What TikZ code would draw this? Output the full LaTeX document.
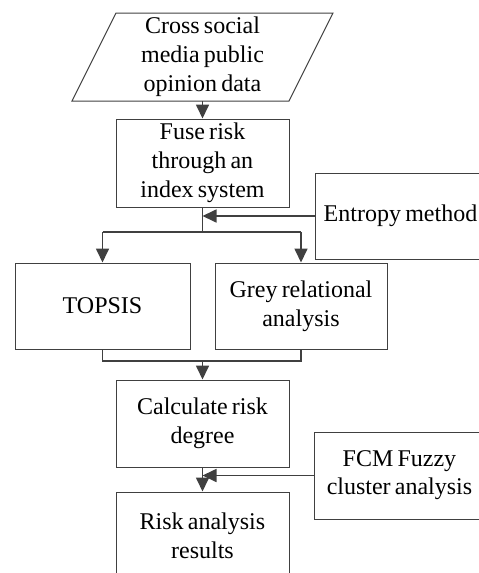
\documentclass[tikz,border=0pt]{standalone}
\usepackage{fontspec}
\setmainfont[WordSpace=0.7]{Liberation Serif}
\usetikzlibrary{arrows.meta}
\definecolor{ln}{HTML}{404040}
\tikzset{
  box/.style={draw=ln, line width=1pt, minimum width=173pt, minimum height=88pt, align=center, inner sep=0pt, font=\fontsize{24}{29}\selectfont},
  sidebox/.style={draw=ln, line width=1pt, minimum height=87pt, minimum width=170pt, inner xsep=1pt, align=center, anchor=west, font=\fontsize{24}{28}\selectfont},
  txt/.style={align=center, inner sep=0pt, font=\fontsize{24}{29}\selectfont},
  conn/.style={draw=ln, line width=1.7pt},
  arr/.style={conn, -{Triangle[width=13pt,length=14pt]}, color=ln}
}
\begin{document}
\begin{tikzpicture}[x=1pt,y=-1pt]
\useasboundingbox (0,0) rectangle (479,573);
\clip (0,0) rectangle (479,573);
% parallelogram input
\draw[draw=ln, line width=1pt] (116,13) -- (333,13) -- (289,101) -- (72,101) -- cycle;
\node[txt] (src) at (202.5,57) {Cross social\\media public\\opinion data};
\coordinate (srcb) at (202.5,101);
% main boxes
\node[box] (fuse) at (202.5,163) {Fuse risk\\through an\\index system};
\node[box, minimum width=175pt, minimum height=86pt] (topsis) at (102.5,306) {TOPSIS};
\node[box, minimum width=172pt, minimum height=86pt] (grey) at (301,306) {Grey relational\\analysis};
\node[box, minimum height=87pt] (calc) at (202.5,423.5) {Calculate risk\\degree};
\node[box] (res) at (202.5,536) {Risk analysis\\results};
% side boxes
\node[sidebox, minimum height=86pt] (ent) at (315,216) {Entropy method};
\node[sidebox] (fcm) at (314,475.5) {FCM Fuzzy\\cluster analysis};
% coordinates
\coordinate (j1) at (202.5,232);
\coordinate (j1l) at (topsis.north |- j1);
\coordinate (j1r) at (grey.north |- j1);
\coordinate (j2) at (202.5,361);
\coordinate (j2l) at (topsis.south |- j2);
\coordinate (j2r) at (grey.south |- j2);
% connectors
\draw[arr] (srcb) -- (fuse.north);
\draw[conn] (fuse.south) -- (j1);
\draw[arr] (ent.west) -- (fuse.south |- ent.west);
\draw[conn] (j1l) -- (j1r);
\draw[arr] (j1l) -- (topsis.north);
\draw[arr] (j1r) -- (grey.north);
\draw[conn] (topsis.south) -- (j2l) -- (j2r) -- (grey.south);
\draw[arr] (j2) -- (calc.north);
\draw[arr] (calc.south) -- (res.north);
\draw[arr] (fcm.west) -- (calc.south |- fcm.west);
\end{tikzpicture}
\end{document}
